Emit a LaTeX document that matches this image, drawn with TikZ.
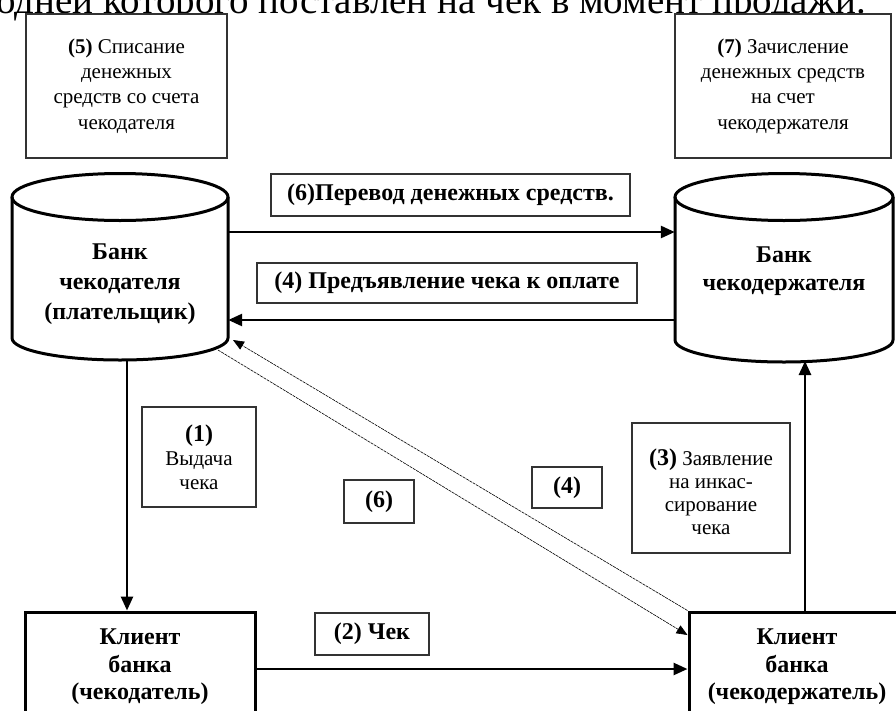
\documentclass[tikz,border=0pt]{standalone}
\usepackage{fontspec}
\setmainfont{Liberation Serif}
\usetikzlibrary{arrows.meta,calc}
\begin{document}
\begin{tikzpicture}[x=1pt,y=-1pt,
  lbl/.style={draw=black!80,line width=1.3pt,fill=white,inner sep=0pt,align=center},
  bigbox/.style={draw=black,line width=3pt,inner sep=0pt},
  cyl/.style={line width=3pt},
  arr/.style={line width=2.6pt,-{Triangle[length=14pt,width=12pt]}},
  thin/.style={line width=0.6pt,dash pattern=on 3pt off 0.8pt,-{Triangle[length=11pt,width=9pt]}},
  btxt/.style={font=\fontsize{24}{29}\selectfont\bfseries,align=center,inner sep=0pt},
  stxt/.style={font=\fontsize{21}{25.3}\selectfont,align=center,inner sep=0pt}]
\useasboundingbox (0,0) rectangle (896,710);
\clip (0,0) rectangle (896,710);
% partial top line
\node[anchor=base east,inner sep=0pt,font=\fontsize{39}{42}\selectfont] (toptext) at (866,13) {одней которого поставлен на чек в момент продажи.};
% top boxes
\node[lbl,minimum width=201,minimum height=144,stxt] (b5) at (126.5,86) {\textbf{(5)} Списание\\денежных\\средств со счета\\чекодателя};
\node[lbl,minimum width=216,minimum height=144,stxt] (b7) at (783,86) {\textbf{(7)} Зачисление\\денежных средств\\на счет\\чекодержателя};
% cylinders
\draw[cyl,fill=white] (12,197) -- (12,338) arc[start angle=180,end angle=0,x radius=108,y radius=22] -- (228,197);
\draw[cyl] (120,197) ellipse[x radius=108,y radius=23.5];
\node[minimum width=216,minimum height=141,inner sep=0pt] (bankA) at (120,267.5) {};
\node[btxt,font=\fontsize{24}{30}\selectfont\bfseries] (bankAt) at (120,284) {Банк\\чекодателя\\(плательщик)};
\draw[cyl,fill=white] (675,197) -- (675,340) arc[start angle=180,end angle=0,x radius=109,y radius=22] -- (893,197);
\draw[cyl] (784,197) ellipse[x radius=109,y radius=23.5];
\node[minimum width=218,minimum height=143,inner sep=0pt] (bankB) at (784,268.5) {};
\node[btxt,font=\fontsize{24}{27.5}\selectfont\bfseries] (bankBt) at (784,271) {Банк\\чекодержателя};
% horizontal arrows between banks
\node[lbl,minimum width=359,minimum height=42,btxt] (l6) at (450.5,195) {(6)Перевод денежных средств.};
\node[lbl,minimum width=380,minimum height=40,btxt] (l4) at (447,283) {(4) Предъявление чека к оплате};
\draw[arr] (bankA.east |- 0,232) -- (bankB.west |- 0,232);
\draw[arr] (bankB.west |- 0,320) -- (bankA.east |- 0,320);
% client boxes
\node[bigbox,minimum width=230,minimum height=130] (clA) at (140,677) {};
\node[btxt,font=\fontsize{24}{27.5}\selectfont\bfseries] (clAt) at (140,667) {Клиент\\банка\\(чекодатель)};
\node[bigbox,minimum width=216,minimum height=130] (clB) at (797,677) {};
\node[btxt,font=\fontsize{24}{27.5}\selectfont\bfseries] (clBt) at (797,667) {Клиент\\банка\\(чекодержатель)};
% vertical arrows
\coordinate (a1s) at (127,359);
\draw[arr] (a1s) -- (a1s |- clA.north);
\coordinate (a3e) at (805,361);
\draw[arr] (a3e |- clB.north) -- (a3e);
% (2) arrow
\node[lbl,minimum width=114,minimum height=42,btxt] (l2) at (372,634) {(2) Чек};
\draw[arr] (clA.east |- 0,669) -- (clB.west |- 0,669);
% diagonal thin arrows
\coordinate (dA) at (233,340);
\coordinate (dB) at (218,350);
\draw[thin] (clB.north west) -- (dA);
\draw[thin] (dB) -- (clB.west |- 0,635);
% labels in middle
\node[lbl,minimum width=114,minimum height=100,font=\fontsize{21}{24}\selectfont,align=center,inner sep=0pt] (b1) at (199,457) {\textbf{\fontsize{24}{24}\selectfont(1)}\\Выдача\\чека};
\node[lbl,minimum width=70,minimum height=43,btxt] (s6) at (379,501.5) {(6)};
\node[lbl,minimum width=70,minimum height=41,btxt] (s4) at (567,487.5) {(4)};
\node[lbl,minimum width=158,minimum height=130] (b3) at (711,488) {};
\node[font=\fontsize{21}{23}\selectfont,align=center,inner sep=0pt] (b3t) at (711,492) {\textbf{\fontsize{24}{23}\selectfont(3)} Заявление\\на инкас-\\сирование\\чека};
\end{tikzpicture}
\end{document}
